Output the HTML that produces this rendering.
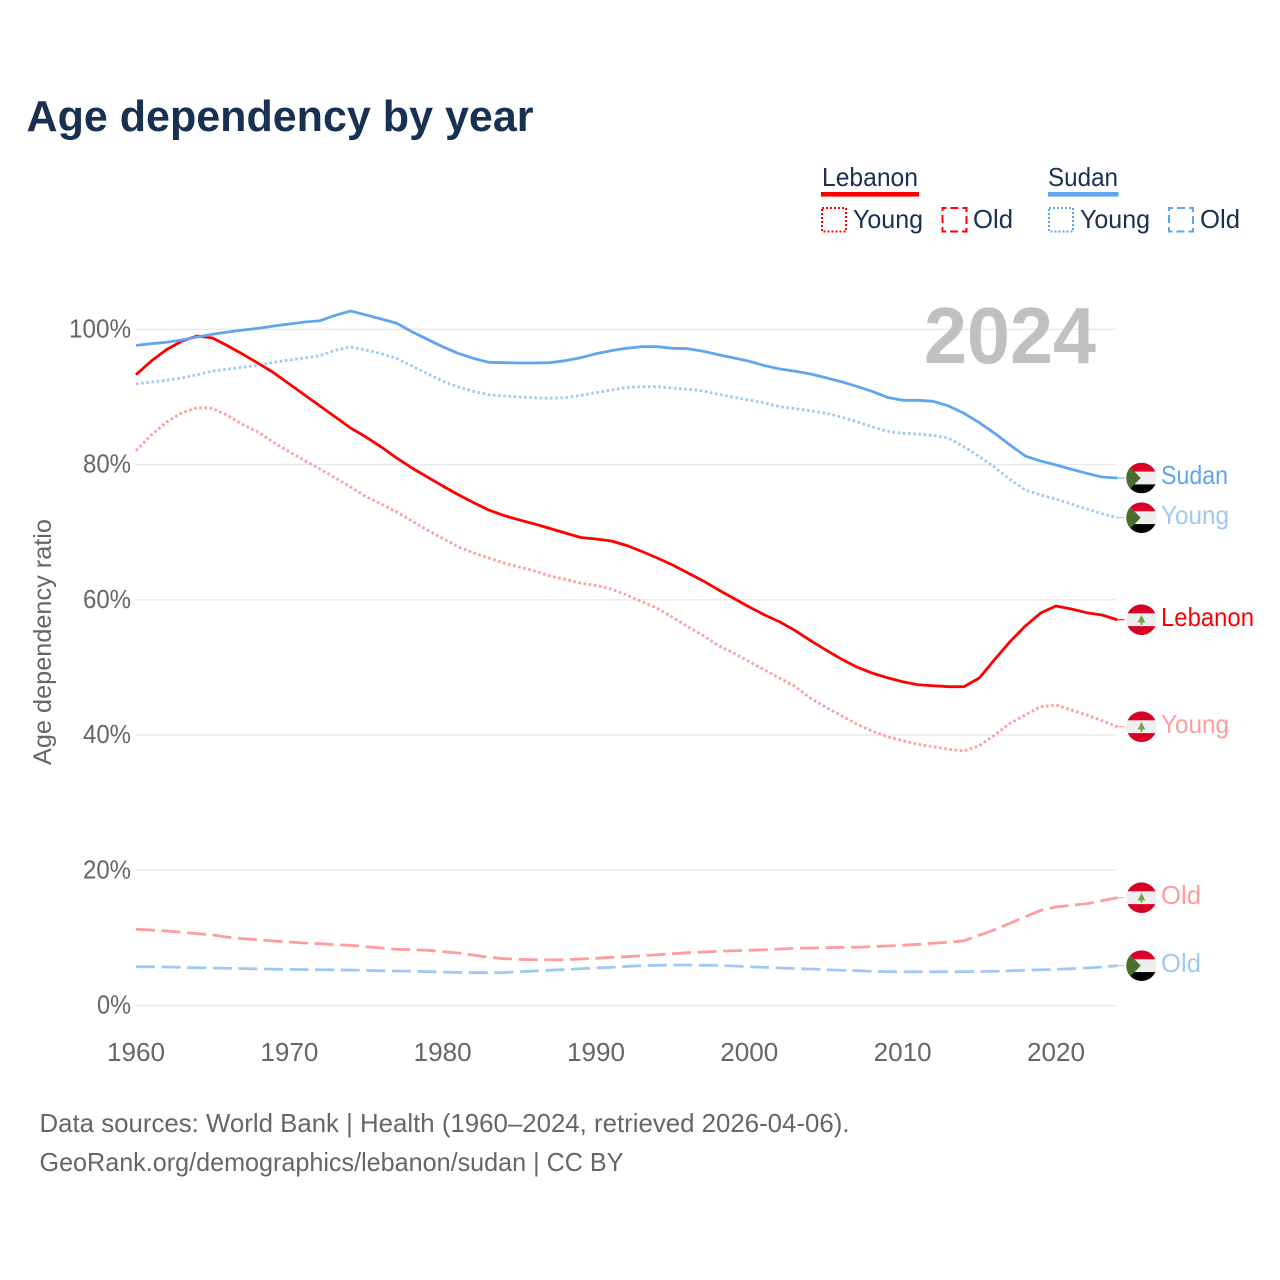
<!DOCTYPE html>
<html lang="en">
<head>
<meta charset="utf-8">
<title>Age dependency by year</title>
<style>
html,body{margin:0;padding:0;background:#fff;}
svg{display:block;font-family:"Liberation Sans",Arial,sans-serif;}
</style>
</head>
<body>
<svg id="chart" xmlns="http://www.w3.org/2000/svg" width="1280" height="1280" viewBox="0 0 1280 1280">
  <rect x="0" y="0" width="1280" height="1280" fill="#ffffff"/>
  <text x="26.5" y="131" font-size="44" font-weight="700" fill="#183153" textLength="507" lengthAdjust="spacingAndGlyphs">Age dependency by year</text>

  <g>
    <g>
      <text x="822" y="186" font-size="26" fill="#183153" textLength="96" lengthAdjust="spacingAndGlyphs">Lebanon</text>
      <rect x="821" y="192" width="98" height="4.6" fill="#ff0000"/>
      <rect x="822" y="208" width="24" height="23.5" fill="none" stroke="#ff0000" stroke-width="2" stroke-dasharray="2 2"/>
      <text x="853" y="228" font-size="26" fill="#183153" textLength="70" lengthAdjust="spacingAndGlyphs">Young</text>
      <rect x="942.5" y="208" width="24" height="23.5" fill="none" stroke="#ff0000" stroke-width="2" stroke-dasharray="8 4" stroke-dashoffset="4"/>
      <text x="973" y="228" font-size="26" fill="#183153" textLength="40" lengthAdjust="spacingAndGlyphs">Old</text>
    </g>
    <g>
      <text x="1048" y="186" font-size="26" fill="#183153" textLength="70" lengthAdjust="spacingAndGlyphs">Sudan</text>
      <rect x="1048" y="192" width="70.5" height="4.6" fill="#5fa6ee"/>
      <rect x="1049" y="208" width="24" height="23.5" fill="none" stroke="#5fa6ee" stroke-width="2" stroke-dasharray="2 2"/>
      <text x="1080" y="228" font-size="26" fill="#183153" textLength="70" lengthAdjust="spacingAndGlyphs">Young</text>
      <rect x="1169" y="208" width="24" height="23.5" fill="none" stroke="#5fa6ee" stroke-width="2" stroke-dasharray="8 4" stroke-dashoffset="4"/>
      <text x="1200" y="228" font-size="26" fill="#183153" textLength="40" lengthAdjust="spacingAndGlyphs">Old</text>
    </g>
  </g>

  <g id="grid"></g>
  <text x="924" y="363" font-size="80" font-weight="700" fill="#c0c0c0" textLength="172" lengthAdjust="spacingAndGlyphs">2024</text>
  <g id="yticks"></g>
  <g id="xticks"></g>
  <text transform="translate(51 642) rotate(-90)" text-anchor="middle" font-size="25" fill="#666666" textLength="246" lengthAdjust="spacingAndGlyphs">Age dependency ratio</text>
  <g id="series"></g>
  <g id="ends"></g>

  <text x="39.5" y="1132" font-size="26" fill="#666666" textLength="810" lengthAdjust="spacingAndGlyphs">Data sources: World Bank | Health (1960–2024, retrieved 2026-04-06).</text>
  <text x="39.5" y="1171" font-size="26" fill="#666666" textLength="584" lengthAdjust="spacingAndGlyphs">GeoRank.org/demographics/lebanon/sudan | CC BY</text>
</svg>
<script>
const startYear = 1960;
const xTickLabels = [1960, 1970, 1980, 1990, 2000, 2010, 2020];
const yTickValues = [0, 20, 40, 60, 80, 100];

const lebanonTotal = [93.29,95.31,97.01,98.27,99.01,98.71,97.53,96.27,94.94,93.54,91.91,90.28,88.66,87.03,85.4,84.07,82.59,80.97,79.49,78.16,76.83,75.57,74.39,73.28,72.46,71.8,71.21,70.54,69.88,69.21,68.99,68.69,68.03,67.14,66.18,65.14,63.96,62.78,61.45,60.19,58.93,57.75,56.71,55.43,53.95,52.57,51.24,50.06,49.17,48.48,47.88,47.44,47.29,47.15,47.15,48.43,51.17,53.8,56.12,58.04,59.08,58.64,58.09,57.75,57.05];
const lebanonYoung = [82.05,84.37,86.29,87.67,88.41,88.32,87.22,85.85,84.77,83.23,81.9,80.57,79.34,78.01,76.68,75.24,74.16,72.98,71.65,70.32,69.09,67.85,66.96,66.18,65.44,64.85,64.26,63.52,63.03,62.44,62.14,61.59,60.71,59.72,58.74,57.41,56.02,54.69,53.21,52.09,50.84,49.62,48.39,47.15,45.43,44.1,42.86,41.63,40.59,39.75,39.16,38.63,38.27,37.89,37.64,38.42,40,41.73,42.96,44.19,44.44,43.7,42.96,42.12,41.23];
const lebanonOld = [11.27,11.17,11.02,10.83,10.62,10.43,10.09,9.88,9.73,9.54,9.39,9.24,9.14,8.99,8.9,8.7,8.5,8.31,8.25,8.16,7.96,7.76,7.47,7.13,6.92,6.83,6.77,6.77,6.77,6.88,6.98,7.13,7.22,7.36,7.51,7.66,7.81,7.91,8.02,8.1,8.16,8.25,8.36,8.46,8.5,8.55,8.61,8.61,8.7,8.8,8.9,9.05,9.2,9.35,9.58,10.38,11.21,12.16,13.13,14.08,14.57,14.82,15.05,15.5,15.94];
const sudanTotal = [97.63,97.87,98.08,98.42,98.86,99.26,99.6,99.9,100.15,100.49,100.78,101.08,101.27,102.07,102.71,102.11,101.52,100.89,99.64,98.52,97.43,96.45,95.71,95.12,95.06,95.02,95.02,95.06,95.36,95.8,96.39,96.84,97.19,97.43,97.43,97.19,97.13,96.75,96.24,95.76,95.27,94.62,94.13,93.79,93.39,92.84,92.25,91.57,90.83,89.94,89.5,89.5,89.35,88.66,87.58,86.19,84.62,82.89,81.26,80.52,79.93,79.3,78.7,78.16,78.01];
const sudanYoung = [91.91,92.21,92.46,92.8,93.29,93.83,94.13,94.42,94.68,95.12,95.46,95.76,96.1,96.89,97.38,96.94,96.39,95.68,94.57,93.43,92.35,91.47,90.83,90.33,90.14,89.99,89.88,89.8,89.88,90.24,90.62,91.02,91.42,91.51,91.51,91.32,91.13,90.88,90.39,89.94,89.54,89.1,88.55,88.26,87.96,87.58,87.03,86.33,85.6,84.92,84.62,84.52,84.32,83.88,82.64,81.16,79.59,77.82,76.23,75.5,74.9,74.16,73.42,72.73,72.14];
const sudanOld = [5.74,5.72,5.69,5.63,5.58,5.55,5.49,5.46,5.41,5.37,5.34,5.31,5.29,5.28,5.24,5.19,5.13,5.1,5.06,5,4.95,4.89,4.87,4.85,4.88,5,5.1,5.22,5.32,5.43,5.55,5.65,5.78,5.89,5.94,5.99,5.99,5.94,5.94,5.84,5.74,5.65,5.55,5.47,5.4,5.29,5.21,5.15,5.06,5,4.98,4.98,4.98,5,5,5.03,5.07,5.13,5.21,5.29,5.35,5.44,5.55,5.69,5.89];

const NS = 'http://www.w3.org/2000/svg';
const xScale = function (year) { return 136 + (year - 1960) * 15.333; };
const yScale = function (value) { return 1005.5 - value * 6.762; };

function make(parent, tag, attrs) {
  const el = document.createElementNS(NS, tag);
  for (const k in attrs) el.setAttribute(k, attrs[k]);
  parent.appendChild(el);
  return el;
}

const gridGroup = document.getElementById('grid');
const yTickGroup = document.getElementById('yticks');
yTickValues.forEach(function (v) {
  const line = make(gridGroup, 'line', {x1: 135.5, x2: 1116, y1: yScale(v), y2: yScale(v), stroke: '#e9e9e9', 'stroke-width': 1.4});
  
  
  const label = v + '%';
  const t = make(yTickGroup, 'text', {x: 131, y: yScale(v) + 8.2, 'text-anchor': 'end', 'font-size': 26, fill: '#666666', textLength: 14 * label.length + 6, lengthAdjust: 'spacingAndGlyphs'});
  t.textContent = label;
  
  
});

const xTickGroup = document.getElementById('xticks');
xTickLabels.forEach(function (year) {
  const t = make(xTickGroup, 'text', {x: xScale(year), y: 1061, 'text-anchor': 'middle', 'font-size': 26, fill: '#666666', textLength: 58, lengthAdjust: 'spacingAndGlyphs'});
  t.textContent = String(year);
  
  
});

const seriesGroup = document.getElementById('series');
const endGroup = document.getElementById('ends');
let clipCounter = 0;

function drawSeries(name, values, color, dash) {
  const pts = values.map(function (v, i) {
    return xScale(startYear + i).toFixed(2) + ',' + yScale(v).toFixed(2);
  }).join(' ');
  const attrs = {points: pts, fill: 'none', stroke: color, 'stroke-width': 2.8, 'stroke-linejoin': 'round'};
  if (dash) attrs['stroke-dasharray'] = dash;
  const line = make(seriesGroup, 'polyline', attrs);
  
  
}

function drawFlag(name, country, cy) {
  const cx = 1141.5;
  const r = 15.3;
  clipCounter += 1;
  const clipId = 'flag-clip-' + clipCounter;
  const clip = make(endGroup, 'clipPath', {id: clipId});
  make(clip, 'circle', {cx: cx, cy: cy, r: r});
  const g = make(endGroup, 'g', {'clip-path': 'url(#' + clipId + ')'});
  
  
  const left = cx - r;
  const w = 2 * r;
  const top = cy - r;
  make(g, 'rect', {x: left, y: cy - 6.4, width: w, height: 12.8, fill: '#eeeeee'});
  if (country === 'sudan') {
    make(g, 'rect', {x: left, y: top, width: w, height: r - 6.4, fill: '#d80027'});
    make(g, 'rect', {x: left, y: cy + 6.4, width: w, height: r - 6.4, fill: '#000000'});
    make(g, 'polygon', {points: (left - 1) + ',' + (cy - 16) + ' ' + (cx - 0.8) + ',' + cy + ' ' + (left - 1) + ',' + (cy + 16), fill: '#496e2d'});
  } else {
    make(g, 'rect', {x: left, y: top, width: w, height: r - 6.4, fill: '#d80027'});
    make(g, 'rect', {x: left, y: cy + 6.4, width: w, height: r - 6.4, fill: '#d80027'});
    make(g, 'polygon', {points: cx + ',' + (cy - 4.8) + ' ' + (cx + 3.8) + ',' + (cy + 2.8) + ' ' + (cx - 3.8) + ',' + (cy + 2.8), fill: '#6da544'});
    make(g, 'rect', {x: cx - 0.8, y: cy + 2.8, width: 1.6, height: 2.4, fill: '#6da544'});
  }
}

function drawEnd(name, country, label, values, lineColor, textColor, labelWidth) {
  const y = yScale(values[values.length - 1]);
  const link = make(endGroup, 'line', {x1: 1117, x2: 1124.5, y1: y, y2: y, stroke: lineColor, 'stroke-width': 1});
  
  
  drawFlag(name, country, y);
  const t = make(endGroup, 'text', {x: 1161, y: y + 6.2, 'font-size': 26, fill: textColor, textLength: labelWidth, lengthAdjust: 'spacingAndGlyphs'});
  t.textContent = label;
  
  
}

const RED = '#ff0000', RED_PALE = '#ff9d9d', BLUE = '#5fa6ee', BLUE_PALE = '#9fc9f4';
const DOT = '2.6 2.6', DASH = '19 6.6';

drawSeries('lebanon-old', lebanonOld, RED_PALE, DASH);
drawSeries('sudan-old', sudanOld, BLUE_PALE, DASH);
drawSeries('lebanon-young', lebanonYoung, RED_PALE, DOT);
drawSeries('sudan-young', sudanYoung, BLUE_PALE, DOT);
drawSeries('lebanon-total', lebanonTotal, RED, null);
drawSeries('sudan-total', sudanTotal, BLUE, null);

drawEnd('sudan-total', 'sudan', 'Sudan', sudanTotal, BLUE, BLUE, 67);
drawEnd('sudan-young', 'sudan', 'Young', sudanYoung, BLUE_PALE, BLUE_PALE, 68);
drawEnd('lebanon-total', 'lebanon', 'Lebanon', lebanonTotal, RED, RED, 93);
drawEnd('lebanon-young', 'lebanon', 'Young', lebanonYoung, RED_PALE, RED_PALE, 68);
drawEnd('lebanon-old', 'lebanon', 'Old', lebanonOld, RED_PALE, RED_PALE, 40);
drawEnd('sudan-old', 'sudan', 'Old', sudanOld, BLUE_PALE, BLUE_PALE, 40);
</script>
</body>
</html>
